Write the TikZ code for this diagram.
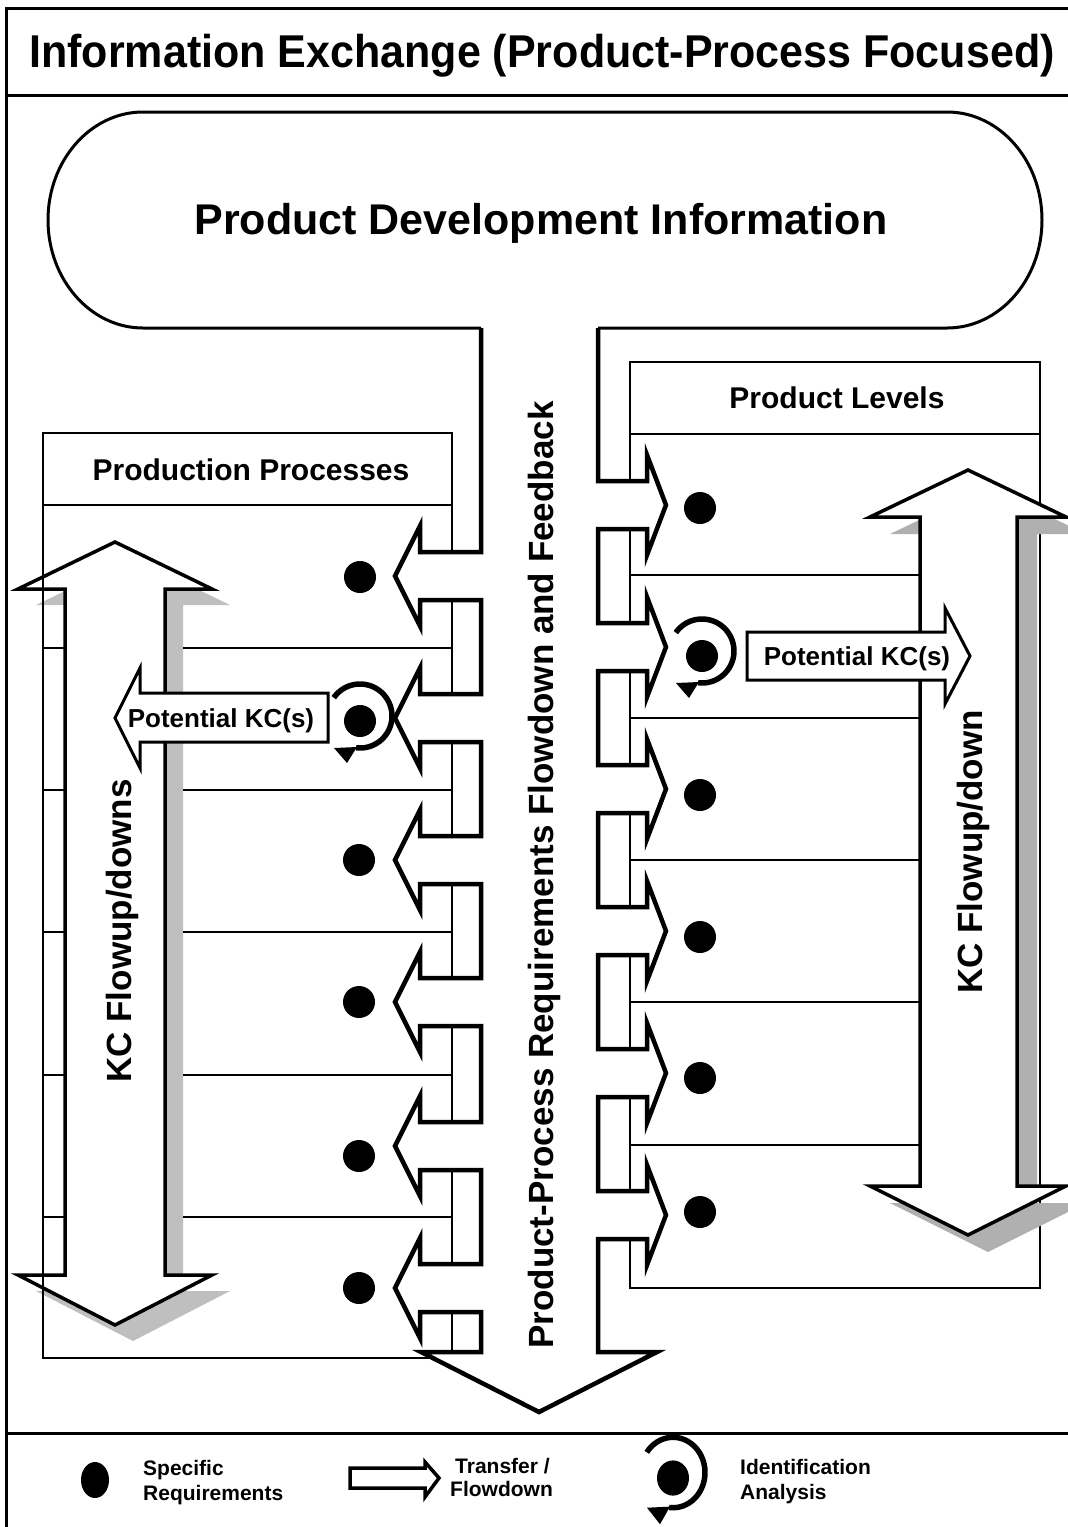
\documentclass[tikz,border=0pt]{standalone}
\usepackage{fontspec}
\setmainfont{Liberation Sans}
\begin{document}
\begin{tikzpicture}[x=1pt, y=-1pt,
  frameline/.style={line width=3pt},
  panelline/.style={line width=2pt},
  rowline/.style={line width=1.6pt},
  pillshape/.style={draw, fill=white, line width=3pt},
  flowshape/.style={draw, fill=white, line width=4.5pt, line join=miter},
  kcarrow/.style={draw, fill=white, line width=3.5pt, line join=miter},
  kcshadeL/.style={fill=gray!50},
  kcshadeR/.style={fill=gray!62},
  potarrow/.style={draw, fill=white, line width=3pt, line join=miter},
  reqdot/.style={fill=black},
  lbl/.style={inner sep=0pt, font=\bfseries},
  legendtxt/.style={inner sep=0pt, anchor=base west, font=\fontsize{21}{25}\selectfont\bfseries},
  idcycle/.pic={
    \fill[black] (0,0) circle (16pt);
    \draw[line width=5.5pt] plot[domain=-145:97, samples=50, smooth] ({32*cos(\x)},{-5+32*sin(\x)});
    \fill[black] (-26,27) -- (-3,26) -- (-13,42) -- cycle;
  }
]
\useasboundingbox (0,0) rectangle (1068,1527);

% outer frame, title band and legend band
\draw[frameline] (1080,8) -- (6,8) -- (6,1540);
\draw[frameline] (6,95) -- (1080,95);
\draw[frameline] (6,1433) -- (1080,1433);
\node[lbl, anchor=base, font=\fontsize{46}{50}\selectfont\bfseries] (title) at (542,67)
  {\scalebox{0.935}[1]{Information Exchange (Product-Process Focused)}};

% product development information pool (open where the flow column leaves it)
\path[pillshape] (598,328) -- (947,328)
  .. controls (999.4,328) and (1042,279.6) .. (1042,220)
  .. controls (1042,160.4) and (999.4,112) .. (947,112)
  -- (143,112)
  .. controls (90.6,112) and (48,160.4) .. (48,220)
  .. controls (48,279.6) and (90.6,328) .. (143,328)
  -- (481,328);
\node[lbl, anchor=base, font=\fontsize{43}{48}\selectfont\bfseries] (pdi) at (541,234)
  {Product Development Information};

% left KC flow arrow with its shadow
\fill[kcshadeL, shift={(18,16)}] (65,589) -- (18,589) -- (115,542) -- (212,589) -- (165,589)
  -- (165,1275) -- (212,1275) -- (115,1325) -- (18,1275) -- (65,1275) -- cycle;
\path[kcarrow] (65,589) -- (18,589) -- (115,542) -- (212,589) -- (165,589)
  -- (165,1275) -- (212,1275) -- (115,1325) -- (18,1275) -- (65,1275) -- cycle;

% production processes panel
\draw[panelline] (43,433) rectangle (452,1358);
\draw[panelline] (43,505) -- (452,505);
\foreach \r in {648,790,932,1075,1217} {
  \draw[rowline] (43,\r) -- (65,\r);
  \draw[rowline] (183,\r) -- (452,\r);
}
\node[lbl, anchor=base, font=\fontsize{30}{34}\selectfont\bfseries] (pp) at (251,480) {Production Processes};

% product levels panel
\draw[panelline] (630,362) rectangle (1040,1288);
\draw[panelline] (630,434) -- (1040,434);
\foreach \r in {575,718,860,1002,1145} {
  \draw[rowline] (630,\r) -- (1000,\r);
}
\node[lbl, anchor=base, font=\fontsize{30}{34}\selectfont\bfseries] (pl) at (837,408) {Product Levels};

% right KC flow arrow with its shadow
\fill[kcshadeR, shift={(20,17)}] (920,517) -- (870,517) -- (968,470) -- (1066,517) -- (1017,517)
  -- (1017,1186) -- (1066,1186) -- (968,1235) -- (870,1186) -- (920,1186) -- cycle;
\path[kcarrow] (920,517) -- (870,517) -- (968,470) -- (1066,517) -- (1017,517)
  -- (1017,1186) -- (1066,1186) -- (968,1235) -- (870,1186) -- (920,1186) -- cycle;

% central requirements column with its outlets
\path[flowshape] (481,328)
  foreach \c in {576,718,860,1002,1146,1288} {
    -- (481,\c-24) -- (420,\c-24) -- (420,\c-50) -- (395,\c) -- (420,\c+50) -- (420,\c+24) -- (481,\c+24)
  }
  -- (481,1352) -- (421,1352) -- (539,1412) -- (657,1352) -- (598,1352)
  foreach \c in {1215,1073,931,789,647,505} {
    -- (598,\c+24) -- (647,\c+24) -- (647,\c+50) -- (666,\c) -- (647,\c-50) -- (647,\c-24) -- (598,\c-24)
  }
  -- (598,328);
\node[lbl, anchor=base, rotate=90, font=\fontsize{35}{40}\selectfont\bfseries] (flowtxt) at (553,875)
  {Product-Process Requirements Flowdown and Feedback};

% specific requirements
\foreach \p in {(360,577),(359,860),(359,1002),(359,1156),(359,1288),
                (700,508),(700,795),(700,937),(700,1078),(700,1212)} {
  \fill[reqdot] \p circle (16pt);
}

% identification analysis
\pic (cycL) at (360,721) {idcycle};
\pic (cycR) at (702,656) {idcycle};

% potential KC arrows
\path[potarrow] (328,693) -- (140,693) -- (140,668) -- (115,718) -- (140,768) -- (140,742) -- (328,742) -- cycle;
\node[lbl, anchor=base, font=\fontsize{26}{30}\selectfont\bfseries] (potL) at (221,727) {Potential KC(s)};
\path[potarrow] (747,632) -- (945,632) -- (945,608) -- (970,656) -- (945,704) -- (945,680) -- (747,680) -- cycle;
\node[lbl, anchor=base, font=\fontsize{26}{30}\selectfont\bfseries] (potR) at (857,665) {Potential KC(s)};

% KC flow labels
\node[lbl, anchor=base, rotate=90, font=\fontsize{35}{40}\selectfont\bfseries] (kcL) at (131,931) {KC Flowup/downs};
\node[lbl, anchor=base, rotate=90, font=\fontsize{35}{40}\selectfont\bfseries] (kcR) at (982,852) {KC Flowup/down};

% legend
\fill[reqdot] (95,1480) ellipse [x radius=14pt, y radius=18pt];
\node[legendtxt] (lg1a) at (143,1475) {Specific};
\node[legendtxt] (lg1b) at (143,1500) {Requirements};
\path[draw, fill=white, line width=3.5pt, line join=miter] (350,1468) -- (425,1468) -- (425,1462)
  -- (439,1478) -- (425,1497) -- (425,1488) -- (350,1488) -- cycle;
\node[legendtxt] (lg2a) at (455,1473) {Transfer /};
\node[legendtxt] (lg2b) at (450,1496) {Flowdown};
\pic[yscale=1.1] (cycLg) at (673,1478) {idcycle};
\node[legendtxt] (lg3a) at (740,1474) {Identification};
\node[legendtxt] (lg3b) at (740,1499) {Analysis};
\end{tikzpicture}
\end{document}
